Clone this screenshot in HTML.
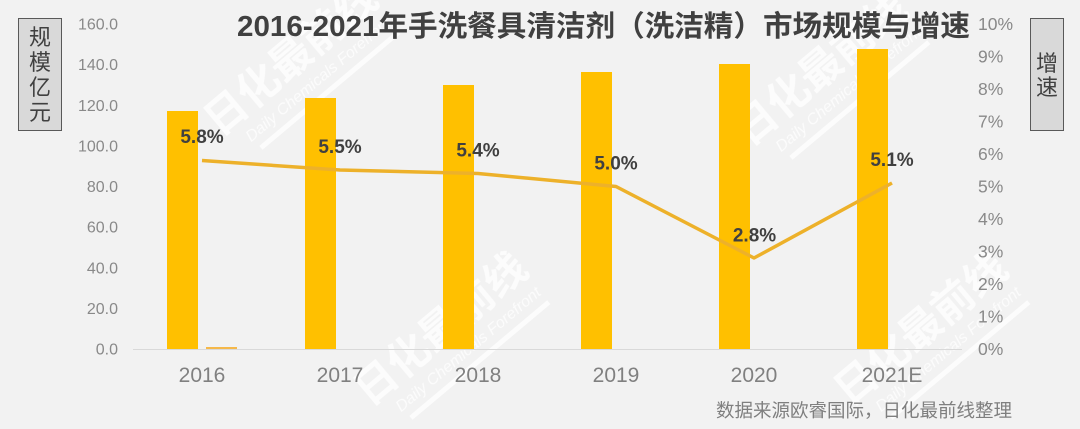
<!DOCTYPE html>
<html><head><meta charset="utf-8"><style>
html,body{margin:0;padding:0;background:#f2f2f2;width:1080px;height:429px;overflow:hidden;}
svg{display:block;overflow:hidden;}
</style></head><body>
<svg width="1080" height="429" viewBox="0 0 1080 429" xmlns="http://www.w3.org/2000/svg">
<rect width="1080" height="429" fill="#f2f2f2"/>
<defs>
<g id="wm">
<text x="0" y="0" font-family="'Liberation Sans','Noto Sans CJK SC',sans-serif" font-weight="bold" font-size="42" fill="#ffffff" text-anchor="middle">日化最前线</text>
<text x="8" y="24" font-family="'Liberation Sans',sans-serif" font-style="italic" font-size="16" fill="#ffffff" text-anchor="middle">Daily Chemicals Forefront</text>
<rect x="-80" y="32" width="180" height="5" fill="#ffffff"/>
</g>
</defs>
<g opacity="0.75">
<use href="#wm" transform="translate(300,70) rotate(-40)"/>
<use href="#wm" transform="translate(830,80) rotate(-40)"/>
<use href="#wm" transform="translate(450,340) rotate(-40)"/>
<use href="#wm" transform="translate(930,340) rotate(-40)"/>
</g>

<!-- title -->
<text x="237" y="36" font-family="'Liberation Sans','Noto Sans CJK SC',sans-serif" font-weight="bold" font-size="29" fill="#404040" textLength="733" lengthAdjust="spacingAndGlyphs">2016-2021年手洗餐具清洁剂（洗洁精）市场规模与增速</text>

<!-- left box -->
<rect x="18.5" y="18.5" width="43" height="112" fill="#d9d9d9" stroke="#595959" stroke-width="1"/>
<g font-family="'Liberation Sans','Noto Sans CJK SC',sans-serif" font-size="22" fill="#404040" text-anchor="middle">
<text x="40" y="45">规</text>
<text x="40" y="70">模</text>
<text x="40" y="95">亿</text>
<text x="40" y="120">元</text>
</g>
<!-- right box -->
<rect x="1030.5" y="18.5" width="33" height="112" fill="#d9d9d9" stroke="#595959" stroke-width="1"/>
<g font-family="'Liberation Sans','Noto Sans CJK SC',sans-serif" font-size="22" fill="#404040" text-anchor="middle">
<text x="1047" y="71">增</text>
<text x="1047" y="95">速</text>
</g>

<!-- left axis labels -->
<g font-family="'Liberation Sans',sans-serif" font-size="16" fill="#898989" text-anchor="end">
<text x="118" y="29.5">160.0</text>
<text x="118" y="70.1">140.0</text>
<text x="118" y="110.8">120.0</text>
<text x="118" y="151.4">100.0</text>
<text x="118" y="192">80.0</text>
<text x="118" y="232.6">60.0</text>
<text x="118" y="273.3">40.0</text>
<text x="118" y="313.9">20.0</text>
<text x="118" y="354.5">0.0</text>
</g>
<!-- right axis labels -->
<g font-family="'Liberation Sans',sans-serif" font-size="17.5" fill="#898989" text-anchor="start">
<text x="978" y="30">10%</text>
<text x="978" y="62.5">9%</text>
<text x="978" y="95">8%</text>
<text x="978" y="127.5">7%</text>
<text x="978" y="160">6%</text>
<text x="978" y="192.5">5%</text>
<text x="978" y="225">4%</text>
<text x="978" y="257.5">3%</text>
<text x="978" y="290">2%</text>
<text x="978" y="322.5">1%</text>
<text x="978" y="355">0%</text>
</g>

<!-- axis line -->
<line x1="133" y1="349.5" x2="962" y2="349.5" stroke="#d9d9d9" stroke-width="1"/>

<!-- bars -->
<g fill="#ffc000">
<rect x="167" y="111" width="31" height="238"/>
<rect x="305" y="98" width="31" height="251"/>
<rect x="443" y="85" width="31" height="264"/>
<rect x="581" y="72" width="31" height="277"/>
<rect x="719" y="64" width="31" height="285"/>
<rect x="857" y="49" width="31" height="300"/>
</g>
<rect x="206" y="347" width="31" height="2" fill="#f5b84a"/>

<!-- line -->
<polyline points="202,160.5 340,170 478,173.5 616,186.5 754,258 892,183" fill="none" stroke="#edb12a" stroke-width="3.5" stroke-linejoin="round" stroke-linecap="butt"/>

<!-- data labels -->
<g font-family="'Liberation Sans',sans-serif" font-weight="bold" font-size="19" fill="#404040" text-anchor="middle">
<text x="202" y="143">5.8%</text>
<text x="340" y="153">5.5%</text>
<text x="478" y="156.5">5.4%</text>
<text x="616" y="169.5">5.0%</text>
<text x="754.5" y="241.5">2.8%</text>
<text x="892" y="166">5.1%</text>
</g>

<!-- category labels -->
<g font-family="'Liberation Sans',sans-serif" font-size="21" fill="#808080" text-anchor="middle">
<text x="202" y="382">2016</text>
<text x="340" y="382">2017</text>
<text x="478" y="382">2018</text>
<text x="616" y="382">2019</text>
<text x="754" y="382">2020</text>
<text x="892" y="382">2021E</text>
</g>

<!-- source -->
<text x="716" y="417" font-family="'Liberation Sans','Noto Sans CJK SC',sans-serif" font-size="18.5" fill="#7f7f7f" textLength="296" lengthAdjust="spacingAndGlyphs">数据来源欧睿国际，日化最前线整理</text>
</svg>
</body></html>
